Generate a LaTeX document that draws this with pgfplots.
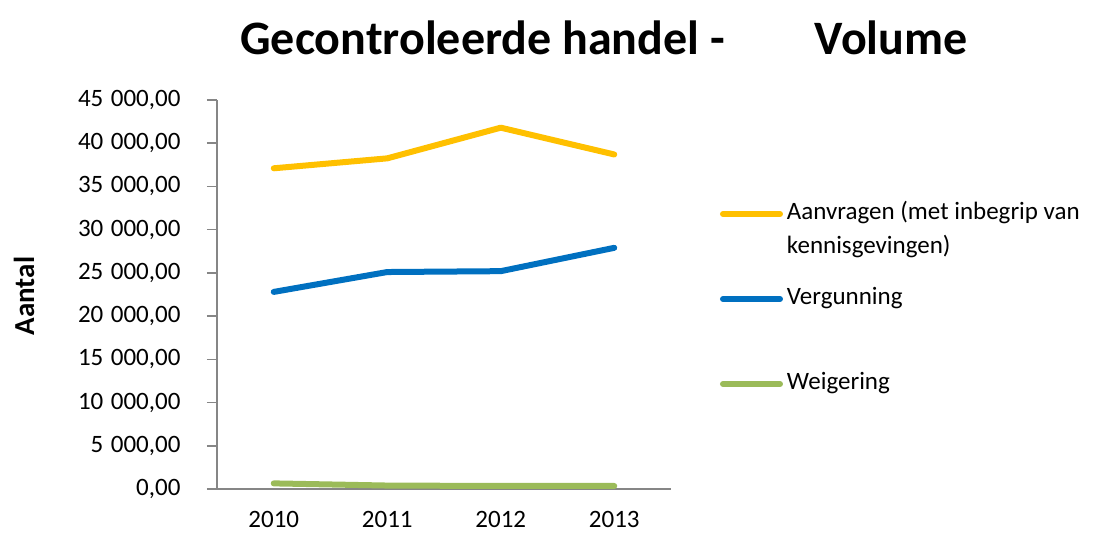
\documentclass[border=0pt]{standalone}
\usepackage{fontspec}
\setmainfont{Carlito}
\usepackage{pgfplots}
\pgfplotsset{compat=1.18}
\definecolor{cyel}{HTML}{FFC000}
\definecolor{cblu}{HTML}{0070C0}
\definecolor{cgrn}{HTML}{9BBB59}
\definecolor{caxis}{HTML}{868686}
\begin{document}
\begin{tikzpicture}
\path[use as bounding box] (0bp,0bp) rectangle (1100bp,-533bp);
\node[font=\fontsize{48bp}{56bp}\selectfont\bfseries, anchor=center] at (604bp,-38bp) {Gecontroleerde handel -\hspace{90bp}Volume};
\begin{axis}[
  at={(217bp,-489bp)}, anchor=south west,
  scale only axis, width=454bp, height=389bp,
  xmin=0, xmax=4, ymin=0, ymax=45000,
  axis lines*=left,
  axis line style={caxis, line width=1.5bp},
  xtick={0.5,1.5,2.5,3.5},
  xticklabels={2010,2011,2012,2013},
  x tick style={draw=none},
  extra x ticks={0,1,2,3,4},
  extra x tick labels={},
  extra x tick style={tick style={draw=caxis, line width=1.5bp}, major tick length=10bp},
  ytick={0,5000,...,45000},
  y tick style={draw=caxis, line width=1.5bp},
  tick align=outside, major tick length=10bp,
  scaled ticks=false,
  /pgf/number format/fixed,
  /pgf/number format/fixed zerofill,
  /pgf/number format/precision=2,
  /pgf/number format/use comma,
  /pgf/number format/1000 sep={\hspace{0.3em}},
  /pgf/number format/assume math mode=true,
  ticklabel style={font=\fontsize{25bp}{30bp}\selectfont},
  xticklabel style={yshift=-9bp},
  yticklabel style={xshift=-23bp},
  ylabel={Aantal},
  every axis y label/.style={at={(axis description cs:-0.4251,0.4961)}, rotate=90, anchor=center, font=\fontsize{29bp}{34bp}\selectfont\bfseries},
  clip=false,
  legend style={draw=none, fill=none, at={(axis description cs:1.1013,0.761)}, anchor=north west,
    font=\fontsize{25bp}{34bp}\selectfont, row sep=11bp, inner sep=0pt, outer sep=0pt,
    nodes={inner sep=0pt, outer sep=0pt}, cells={anchor=north west}},
  legend image code/.code={\path (0bp,0bp) (64bp,-68bp); \draw[#1, line width=6bp, line cap=round] (3bp,-18bp) -- (60bp,-18bp);},
  every axis plot/.append style={line width=6bp, line cap=round, line join=round},
]
\addplot[cyel] coordinates {(0.5,37100) (1.5,38250) (2.5,41800) (3.5,38700)};
\addlegendentry{\parbox[t]{330bp}{\strut Aanvragen (met inbegrip van\\kennisgevingen)\strut}}
\addplot[cblu] coordinates {(0.5,22800) (1.5,25100) (2.5,25200) (3.5,27900)};
\addlegendentry{\parbox[t]{330bp}{\strut Vergunning}}
\addplot[cgrn] coordinates {(0.5,650) (1.5,400) (2.5,350) (3.5,350)};
\addlegendentry{\parbox[t]{330bp}{\strut Weigering}}
\end{axis}
\end{tikzpicture}
\end{document}
